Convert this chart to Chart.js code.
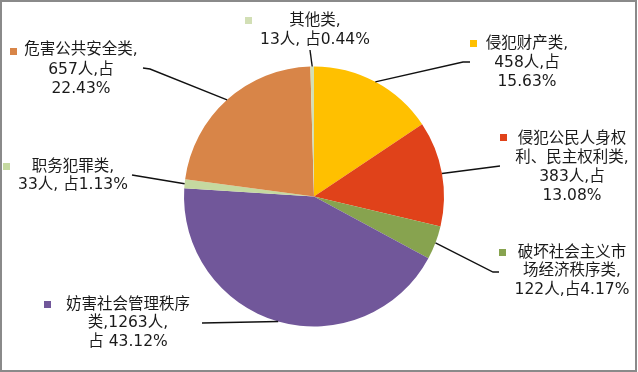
<!DOCTYPE html>
<html>
<head>
<meta charset="utf-8">
<script src="https://cdn.jsdelivr.net/npm/chart.js@4.4.0/dist/chart.umd.min.js"></script>
<style>
  html, body { margin: 0; padding: 0; background: #fff; }
  #wrap { position: relative; width: 638px; height: 372px; }
</style>
</head>
<body>
<div id="wrap"><canvas id="pie"></canvas></div>
<script>
// Data (clockwise from 12 o'clock)
const categories = ["侵犯财产类", "侵犯公民人身权利、民主权利类", "破坏社会主义市场经济秩序类", "妨害社会管理秩序类", "职务犯罪类", "危害公共安全类", "其他类"];
const counts = [458, 383, 122, 1263, 33, 657, 13];
const shares = [15.63, 13.08, 4.17, 43.12, 1.13, 22.43, 0.44];
const labelLines = [
  ["侵犯财产类,", "458人,占", "15.63%"],
  ["侵犯公民人身权", "利、民主权利类,", "383人,占", "13.08%"],
  ["破坏社会主义市", "场经济秩序类,", "122人,占4.17%"],
  ["妨害社会管理秩序", "类,1263人,", "占 43.12%"],
  ["职务犯罪类,", "33人, 占1.13%"],
  ["危害公共安全类,", "657人,占", "22.43%"],
  ["其他类,", "13人, 占0.44%"]
];
const colors = ["#FFC000", "#E0421A", "#87A34F", "#71579A", "#C5D9A0", "#D88548", "#D2DFB5"];

// Label placement: text centre x, line middles, legend square, leader elbow points
const labelLayout = [
  { cx: 527, ys: [44, 63, 82], sq: [470, 40], leader: [[463, 62], [470, 62]] },
  { cx: 572, ys: [139, 158, 177, 196], sq: [500, 134], leader: [[500, 166]] },
  { cx: 572, ys: [253, 271, 290], sq: [499, 249], leader: [[493, 272], [499, 272]] },
  { cx: 128, ys: [305, 323, 342], sq: [44, 301], leader: [[202, 323]] },
  { cx: 73, ys: [167, 185], sq: [3, 163], leader: [[132, 175]] },
  { cx: 81, ys: [50, 70, 89], sq: [10, 48], leader: [[150, 69], [143, 68]] },
  { cx: 315, ys: [21, 40], sq: [245, 17], leader: [[310, 50]] }
];

const sliceLabels = {
  id: "sliceLabels",
  afterDatasetsDraw(chart) {
    const ctx = chart.ctx;
    const arcs = chart.getDatasetMeta(0).data;
    ctx.save();
    arcs.forEach((arc, i) => {
      const p = arc.getProps(["x", "y", "startAngle", "endAngle", "outerRadius"], true);
      const mid = (p.startAngle + p.endAngle) / 2;
      const lay = labelLayout[i];
      // leader line
      ctx.beginPath();
      ctx.moveTo(p.x + Math.cos(mid) * p.outerRadius, p.y + Math.sin(mid) * p.outerRadius);
      lay.leader.forEach(([x, y]) => ctx.lineTo(x, y));
      ctx.strokeStyle = "#111";
      ctx.lineWidth = 1.4;
      ctx.stroke();
      // legend key
      ctx.fillStyle = colors[i];
      ctx.fillRect(lay.sq[0], lay.sq[1], 7, 7);
      // text
      ctx.fillStyle = "#1a1a1a";
      ctx.font = '15.5px "DejaVu Sans", "Noto Sans CJK SC", sans-serif';
      ctx.textAlign = "center";
      ctx.textBaseline = "middle";
      labelLines[i].forEach((line, k) => ctx.fillText(line, lay.cx, lay.ys[k]));
    });
    // outer frame
    ctx.strokeStyle = "#8a8a8a";
    ctx.lineWidth = 2;
    ctx.strokeRect(1, 1, 635, 370);
    ctx.restore();
  }
};

new Chart(document.getElementById("pie"), {
  type: "pie",
  data: {
    labels: categories,
    datasets: [{
      data: counts,
      backgroundColor: colors,
      borderWidth: 0
    }]
  },
  options: {
    responsive: true,
    maintainAspectRatio: false,
    animation: false,
    layout: { padding: { top: 66, bottom: 45, left: 184, right: 194 } },
    plugins: {
      legend: { display: false },
      tooltip: { enabled: false }
    }
  },
  plugins: [sliceLabels]
});
</script>
</body>
</html>
